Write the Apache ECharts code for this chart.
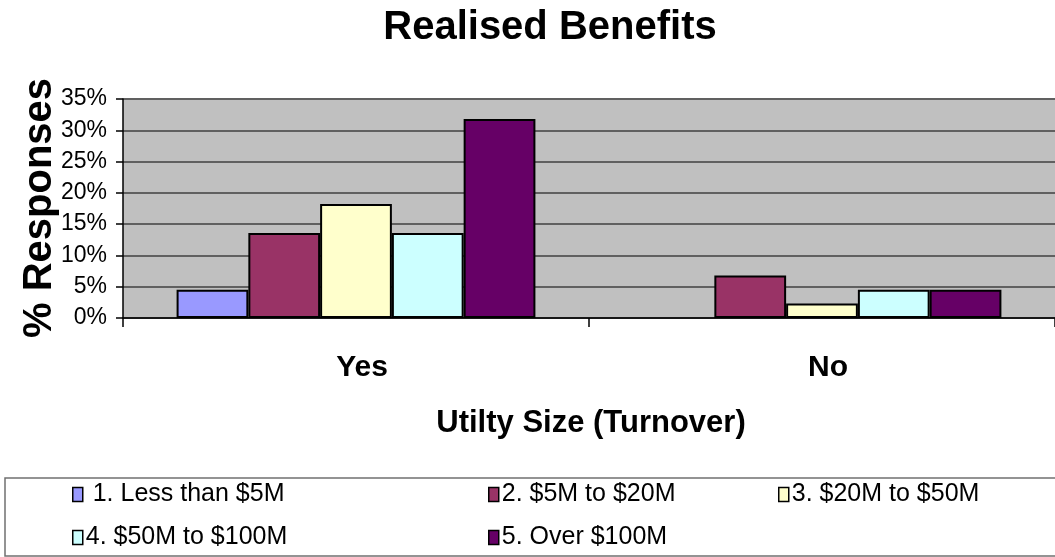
<!DOCTYPE html>
<html>
<head>
<meta charset="utf-8">
<script src="https://cdn.jsdelivr.net/npm/echarts@6/dist/echarts.min.js"></script>
<style>
html,body{margin:0;padding:0;background:#fff;}
#c{width:1055px;height:557px;}
</style>
</head>
<body>
<div id="c"></div>
<script>
const categories = ['Yes', 'No'];
const seriesNames = ['1. Less than $5M', '2. $5M to $20M', '3. $20M to $50M', '4. $50M to $100M', '5. Over $100M'];
const lessThan5M = [4.5, null];
const from5To20M = [13.6, 6.8];
const from20To50M = [18.2, 2.3];
const from50To100M = [13.6, 4.5];
const over100M = [31.8, 4.5];
const yTicks = { min: 0, max: 35, interval: 5 };
const colors = ['#9999FF', '#993366', '#FFFFCC', '#CCFFFF', '#660066'];
const seriesValues = [lessThan5M, from5To20M, from20To50M, from50To100M, over100M];

const FONT = '"Liberation Sans", Arial, sans-serif';
const chart = echarts.init(document.getElementById('c'), null, { renderer: 'canvas' });

// legend slots: [left, top] per series
const legendSlots = [[72, 482], [488, 482], [778, 482], [72, 525], [488, 525]];
const legends = seriesNames.map((name, i) => ({
  orient: 'horizontal',
  left: legendSlots[i][0],
  top: legendSlots[i][1],
  padding: 0,
  itemWidth: 10,
  itemHeight: 14,
  icon: 'rect',
  selectedMode: false,
  data: [name],
  formatter: n => (i === 0 ? ' ' + n : n),
  itemStyle: { borderColor: '#000', borderWidth: 1.5 },
  textStyle: { fontFamily: FONT, fontSize: 25, color: '#000', lineHeight: 24, padding: [0, 0, 0, -2] }
}));

const option = {
  animation: false,
  backgroundColor: '#fff',
  grid: { left: 123, top: 99, width: 936, height: 219, show: true, backgroundColor: '#C0C0C0', borderWidth: 0 },
  xAxis: {
    type: 'category',
    data: categories,
    boundaryGap: true,
    axisLine: { lineStyle: { color: '#000', width: 1.5 } },
    axisTick: { show: true, length: 9, lineStyle: { color: '#000', width: 1.5 } },
    axisLabel: { fontFamily: FONT, fontSize: 30, fontWeight: 'bold', color: '#000', margin: 35, padding: [0, 0, 0, 12] },
    splitLine: { show: false }
  },
  yAxis: {
    type: 'value',
    min: yTicks.min, max: yTicks.max, interval: yTicks.interval,
    axisLine: { show: true, lineStyle: { color: '#000', width: 1.5 } },
    axisTick: { show: true, length: 7, lineStyle: { color: '#000', width: 1.5 } },
    axisLabel: { fontFamily: FONT, fontSize: 23, color: '#000', margin: 16, formatter: '{value}%' },
    splitLine: { show: true, lineStyle: { color: '#606060', width: 2 } }
  },
  legend: legends,
  series: seriesNames.map((name, i) => ({
    name: name,
    type: 'bar',
    data: seriesValues[i],
    barGap: '0%',
    barCategoryGap: '23%',
    itemStyle: { color: colors[i], borderColor: '#000', borderWidth: 2 }
  })),
  graphic: [
    { type: 'text', x: 550, y: 28, style: { text: 'Realised Benefits', font: 'bold 40px ' + FONT, fill: '#000', align: 'center', verticalAlign: 'middle' } },
    { type: 'text', x: 40, y: 208, rotation: Math.PI / 2, style: { text: '% Responses', font: 'bold 40px ' + FONT, fill: '#000', align: 'center', verticalAlign: 'middle' } },
    { type: 'text', x: 591, y: 423, style: { text: 'Utilty Size (Turnover)', font: 'bold 31px ' + FONT, fill: '#000', align: 'center', verticalAlign: 'middle' } },
    { type: 'rect', shape: { x: 5, y: 478, width: 1060, height: 78 }, style: { fill: 'none', stroke: '#707070', lineWidth: 1.5 }, z: -1 }
  ]
};
chart.setOption(option);
</script>
</body>
</html>
